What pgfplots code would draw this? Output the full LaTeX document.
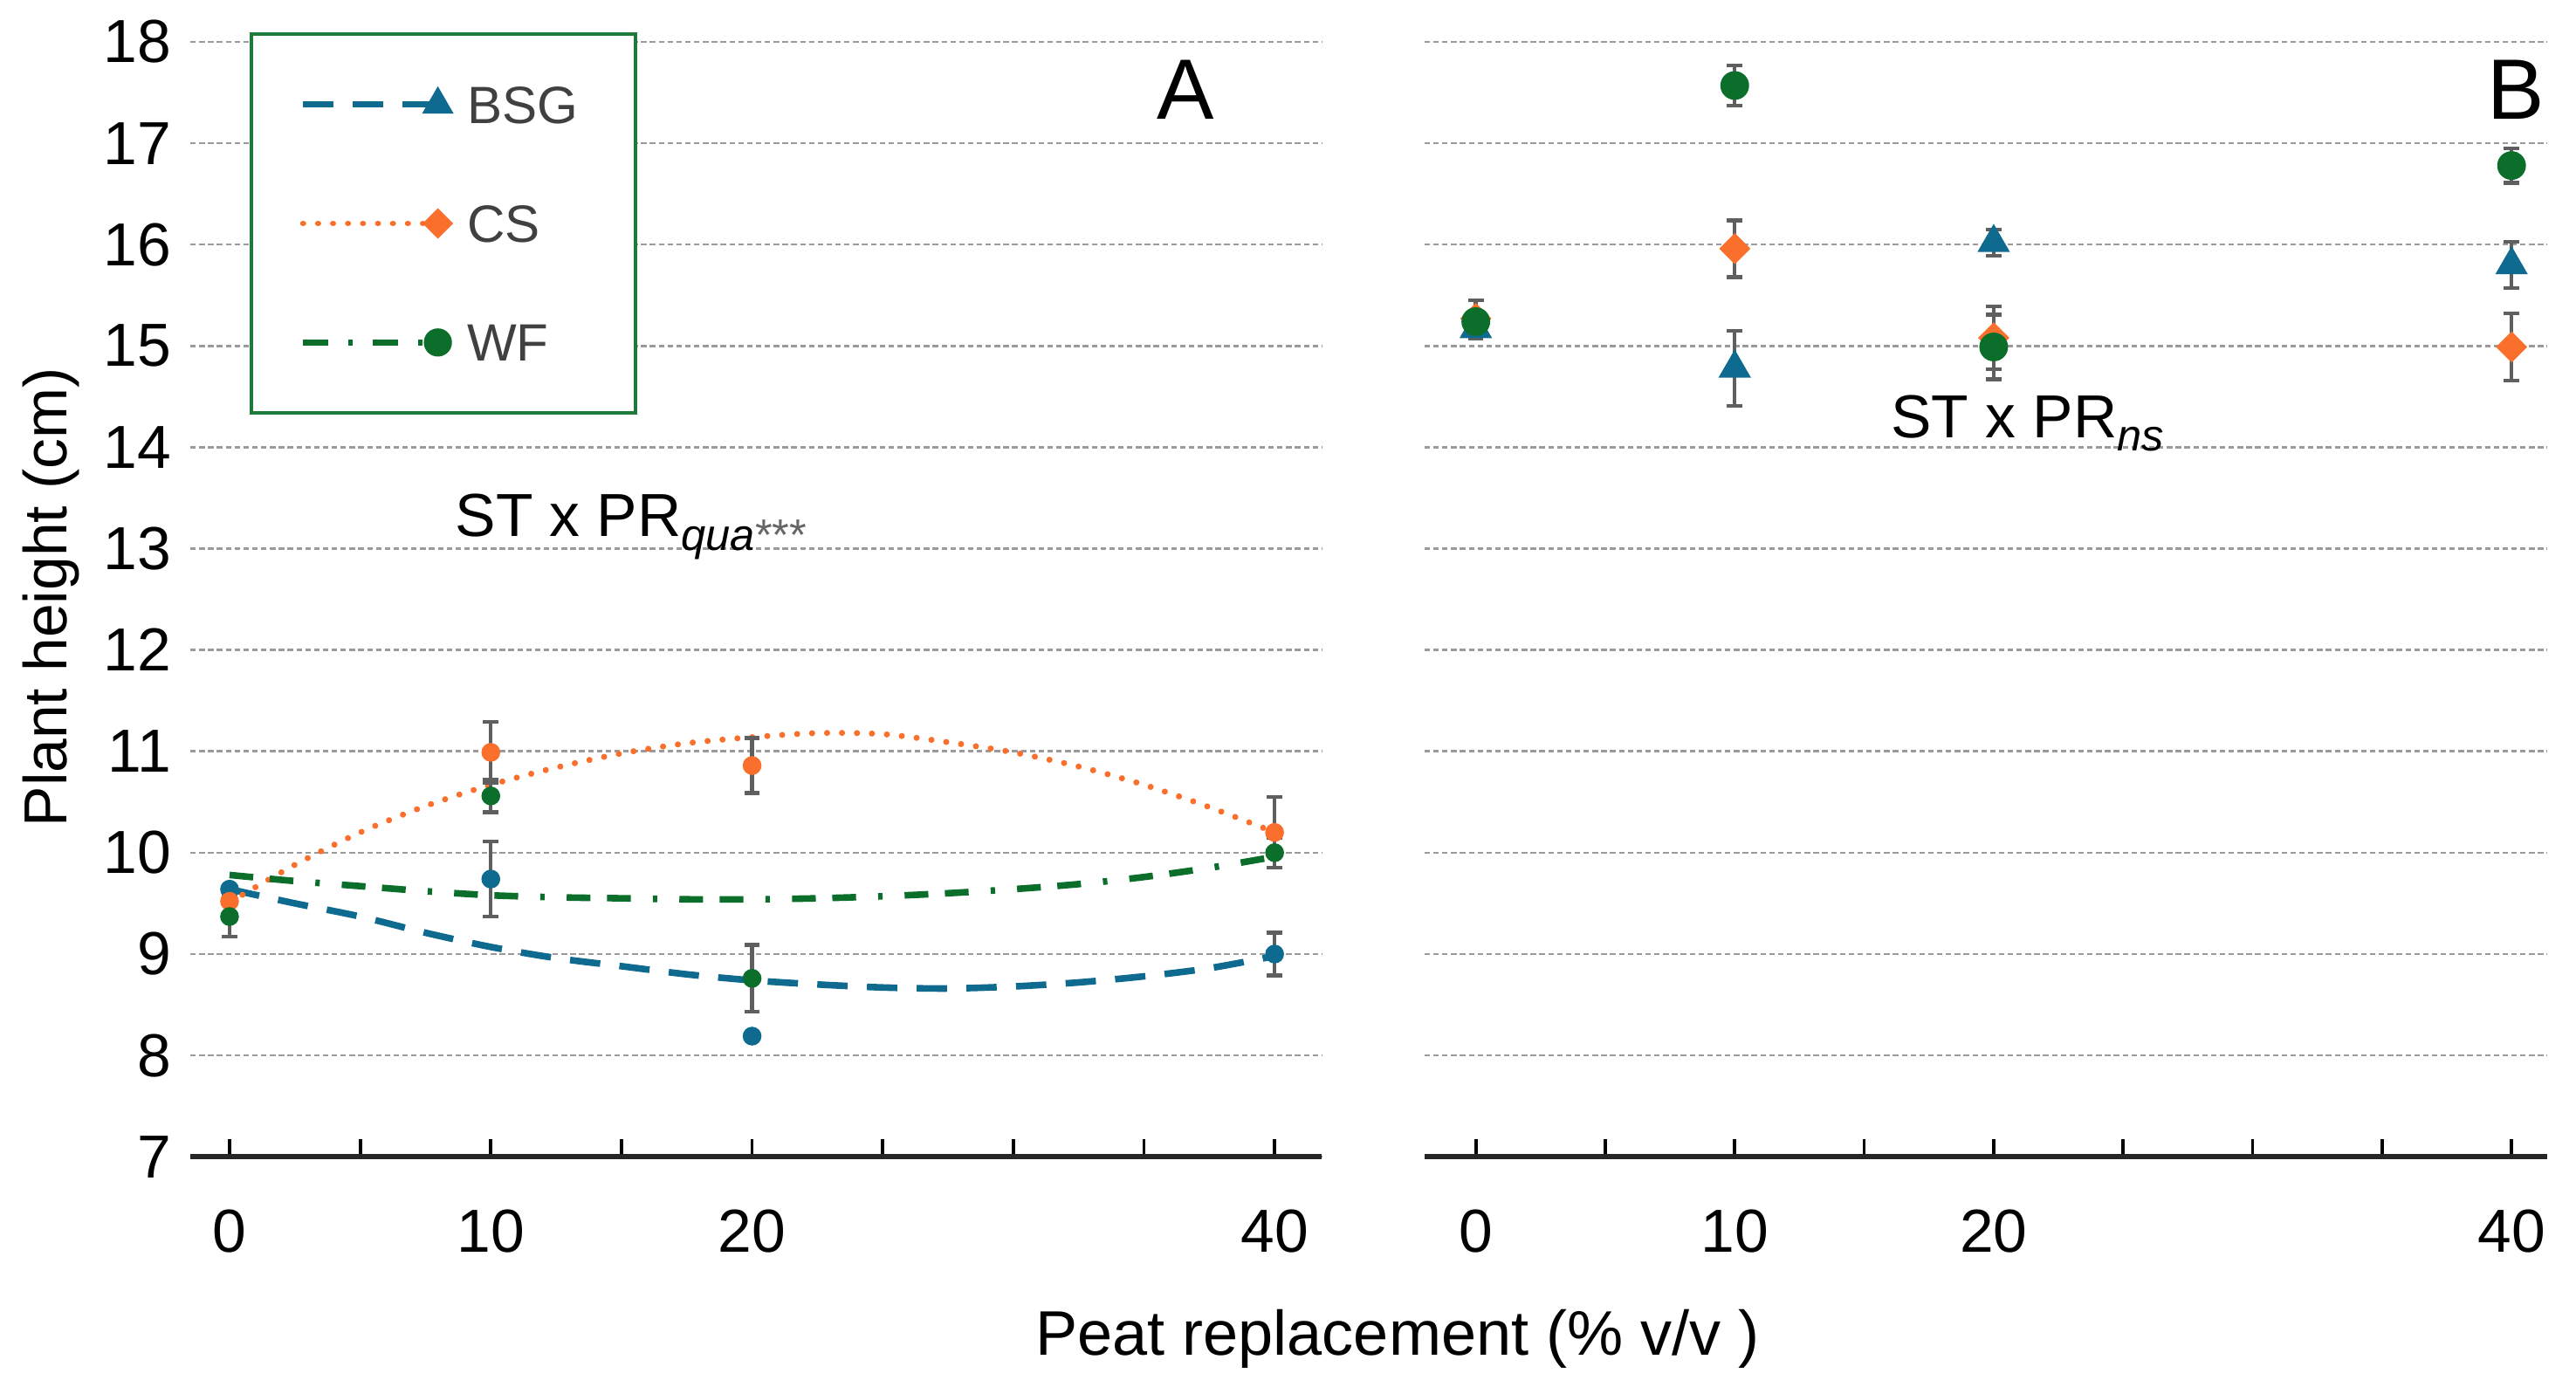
\documentclass[border=0pt]{standalone}
\usepackage{fontspec}
\setmainfont{Liberation Sans}
\usepackage{pgfplots}
\pgfplotsset{compat=1.18}
\definecolor{bsg}{HTML}{0F6A8F}
\definecolor{cs}{HTML}{FA6F2C}
\definecolor{wf}{HTML}{0B6E2A}
\definecolor{errc}{HTML}{5F5F5F}
\definecolor{gridc}{HTML}{9A9A9A}
\definecolor{legc}{HTML}{1C7A3A}
\definecolor{legtext}{HTML}{404040}

\pgfplotsset{
  panel/.style={
    scale only axis, height=201.87pt, ymin=7, ymax=18,
    axis x line*=bottom, axis y line*=left,
    x axis line style={line width=0.85pt, draw=black!85, -},
    y axis line style={draw=none},
    ytick={7,...,18},
    ymajorgrids=true,
    major grid style={draw=gridc, line width=0.4pt, dash pattern=on 1pt off 0.6pt},
    xtick={0,5,...,40},
    xticklabels={0,,10,,20,,,,40},
    tick align=inside,
    major tick length=3.15pt,
    xtick style={line width=0.6pt, black},
    ytick style={draw=none},
    tick label style={font=\fontsize{11}{13}\selectfont},
    /pgf/number format/assume math mode=true,
    xticklabel style={anchor=north, inner sep=0pt, yshift=-9.4pt},
    yticklabel style={anchor=east, inner sep=0pt, xshift=-3.3pt},
    clip=false,
  },
  ebar/.style={error bars/.cd, y dir=both, y explicit,
    error bar style={errc, line width=0.7pt, solid},
    error mark options={rotate=90, errc, line width=0.7pt, mark size=1.4pt, solid}, /pgfplots/.cd},
  bsgline/.style={bsg, line width=1.2pt, dash pattern=on 5.5pt off 3.5pt},
  csline/.style={cs, line width=1.1pt, line cap=round, dash pattern=on 0.01pt off 2.7pt},
  wfline/.style={wf, line width=1.2pt, dash pattern=on 4.3pt off 3pt on 4.3pt off 4pt on 0.8pt off 4pt},
}

\begin{document}
\begin{tikzpicture}
\useasboundingbox (-34.47pt,-42.81pt) rectangle (431.97pt,209.46pt);

% ---------------- Panel A ----------------
\begin{axis}[panel, at={(0pt,0pt)}, anchor=south west, width=204.84pt,
  xmin=-1.5, xmax=41.8,
  legend style={at={(axis description cs:0.0528,1.0083)}, anchor=north west,
    draw=legc, line width=0.6pt, inner xsep=8.7pt, inner ysep=9.3pt,
    row sep=14.75pt, font=\fontsize{9.5}{11}\selectfont, text=legtext,
    nodes={inner sep=0pt, text height=6.8pt, text depth=0pt, text width=21.8pt},
    /tikz/every odd column/.append style={column sep=2.7pt}},
  legend cell align=left,
  legend image code/.code={%
    \draw[#1, mark=none] (0pt,0pt) -- (24.4pt,0pt);
    \draw[#1, solid] plot coordinates {(24.4pt,0pt)};}
]
\addlegendimage{bsgline, mark=triangle*, mark size=3pt, mark options={solid, fill=bsg, draw=bsg, line width=0.3pt}}
\addlegendimage{csline, mark=square*, mark size=1.8pt, mark options={solid, rotate=45, fill=cs, draw=cs, line width=0.3pt}}
\addlegendimage{wf, line width=1.2pt, dash pattern=on 4.6pt off 3.6pt on 0.8pt off 3.6pt, mark=*, mark size=2.4pt, mark options={solid, fill=wf, draw=wf, line width=0.3pt}}
\legend{BSG,CS,WF}

% trend lines
\addplot[bsgline, smooth, forget plot] coordinates {
 (0,9.64) (2.5,9.50) (5,9.37) (7.5,9.21) (10,9.07) (12.5,8.96) (15,8.88) (17.5,8.80)
 (20,8.74) (22.5,8.70) (25,8.67) (27.5,8.66) (30,8.68) (32.5,8.72) (35,8.78) (37.5,8.86) (40,8.98)};
\addplot[csline, smooth, forget plot] coordinates {
 (0,9.51) (2.5,9.88) (5,10.20) (7.5,10.46) (10,10.67) (12.5,10.84) (15,10.98) (17.5,11.08)
 (20,11.14) (22.5,11.18) (25,11.17) (27.5,11.09) (30,10.99) (32.5,10.85) (35,10.67) (37.5,10.45) (40,10.20)};
\addplot[wfline, smooth, forget plot] coordinates {
 (0,9.78) (2.5,9.72) (5,9.67) (7.5,9.62) (10,9.58) (12.5,9.56) (15,9.55) (17.5,9.54)
 (20,9.54) (22.5,9.55) (25,9.57) (27.5,9.60) (30,9.64) (32.5,9.69) (35,9.76) (37.5,9.85) (40,9.96)};

% means with error bars
\addplot[only marks, mark=*, mark size=1.5pt, bsg, forget plot, ebar] coordinates {
 (10,9.74) +- (0,0.37) (40,9.00) +- (0,0.21)};
\addplot[only marks, mark=*, mark size=1.5pt, bsg, forget plot] coordinates {
 (0,9.64) (20,8.19)};
\addplot[only marks, mark=*, mark size=1.5pt, cs, forget plot] coordinates {
 (0,9.52)};
\addplot[only marks, mark=*, mark size=1.5pt, cs, forget plot, ebar] coordinates {
 (10,10.99) +- (0,0.30) (20,10.86) +- (0,0.27) (40,10.20) +- (0,0.35)};
\addplot[only marks, mark=*, mark size=1.5pt, wf, forget plot, ebar] coordinates {
 (0,9.37) +- (0,0.20) (10,10.56) +- (0,0.16) (20,8.76) +- (0,0.33) (40,10.00) +- (0,0.15)};

\node[font=\fontsize{15.5}{18}\selectfont] at (axis cs:36.6,17.53) {A};
\node[anchor=base west, font=\fontsize{11}{13}\selectfont, inner sep=0pt] at (axis cs:8.6,13.12)
  {ST x PR\raisebox{-2.5pt}{\fontsize{8}{9}\selectfont\itshape qua\upshape\textcolor{black!60}{***}}};
\end{axis}

% ---------------- Panel B ----------------
\begin{axis}[panel, at={(223.47pt,0pt)}, anchor=south west, width=203.3pt,
  xmin=-1.98, xmax=41.38, yticklabels={}]
\addplot[only marks, mark=triangle*, mark size=3pt, bsg, ebar] coordinates {
 (0,15.17) +- (0,0.10) (10,14.78) +- (0,0.37) (20,16.02) +- (0,0.13) (40,15.80) +- (0,0.23)};
\addplot[only marks, mark=square*, mark size=1.8pt, mark options={rotate=45}, cs, ebar] coordinates {
 (0,15.27) +- (0,0.18) (10,15.96) +- (0,0.28) (20,15.08) +- (0,0.31) (40,14.99) +- (0,0.33)};
\addplot[only marks, mark=*, mark size=2.4pt, wf, ebar] coordinates {
 (0,15.24) +- (0,0.05) (10,17.57) +- (0,0.20) (20,14.99) +- (0,0.32) (40,16.78) +- (0,0.17)};

\node[font=\fontsize{15.5}{18}\selectfont] at (axis cs:40.17,17.53) {B};
\node[anchor=base west, font=\fontsize{11}{13}\selectfont, inner sep=0pt] at (axis cs:16.0,14.09)
  {ST x PR\raisebox{-2.3pt}{\fontsize{8}{9}\selectfont\itshape ns}};
\end{axis}

% axis titles
\node[anchor=base, font=\fontsize{11.4}{13}\selectfont, inner sep=0pt] at (218.6pt,-35.9pt) {Peat replacement (\% v/v )};
\node[rotate=90, font=\fontsize{11}{13}\selectfont, inner sep=0pt] at (-25.3pt,101.3pt) {Plant height (cm)};
\end{tikzpicture}
\end{document}
